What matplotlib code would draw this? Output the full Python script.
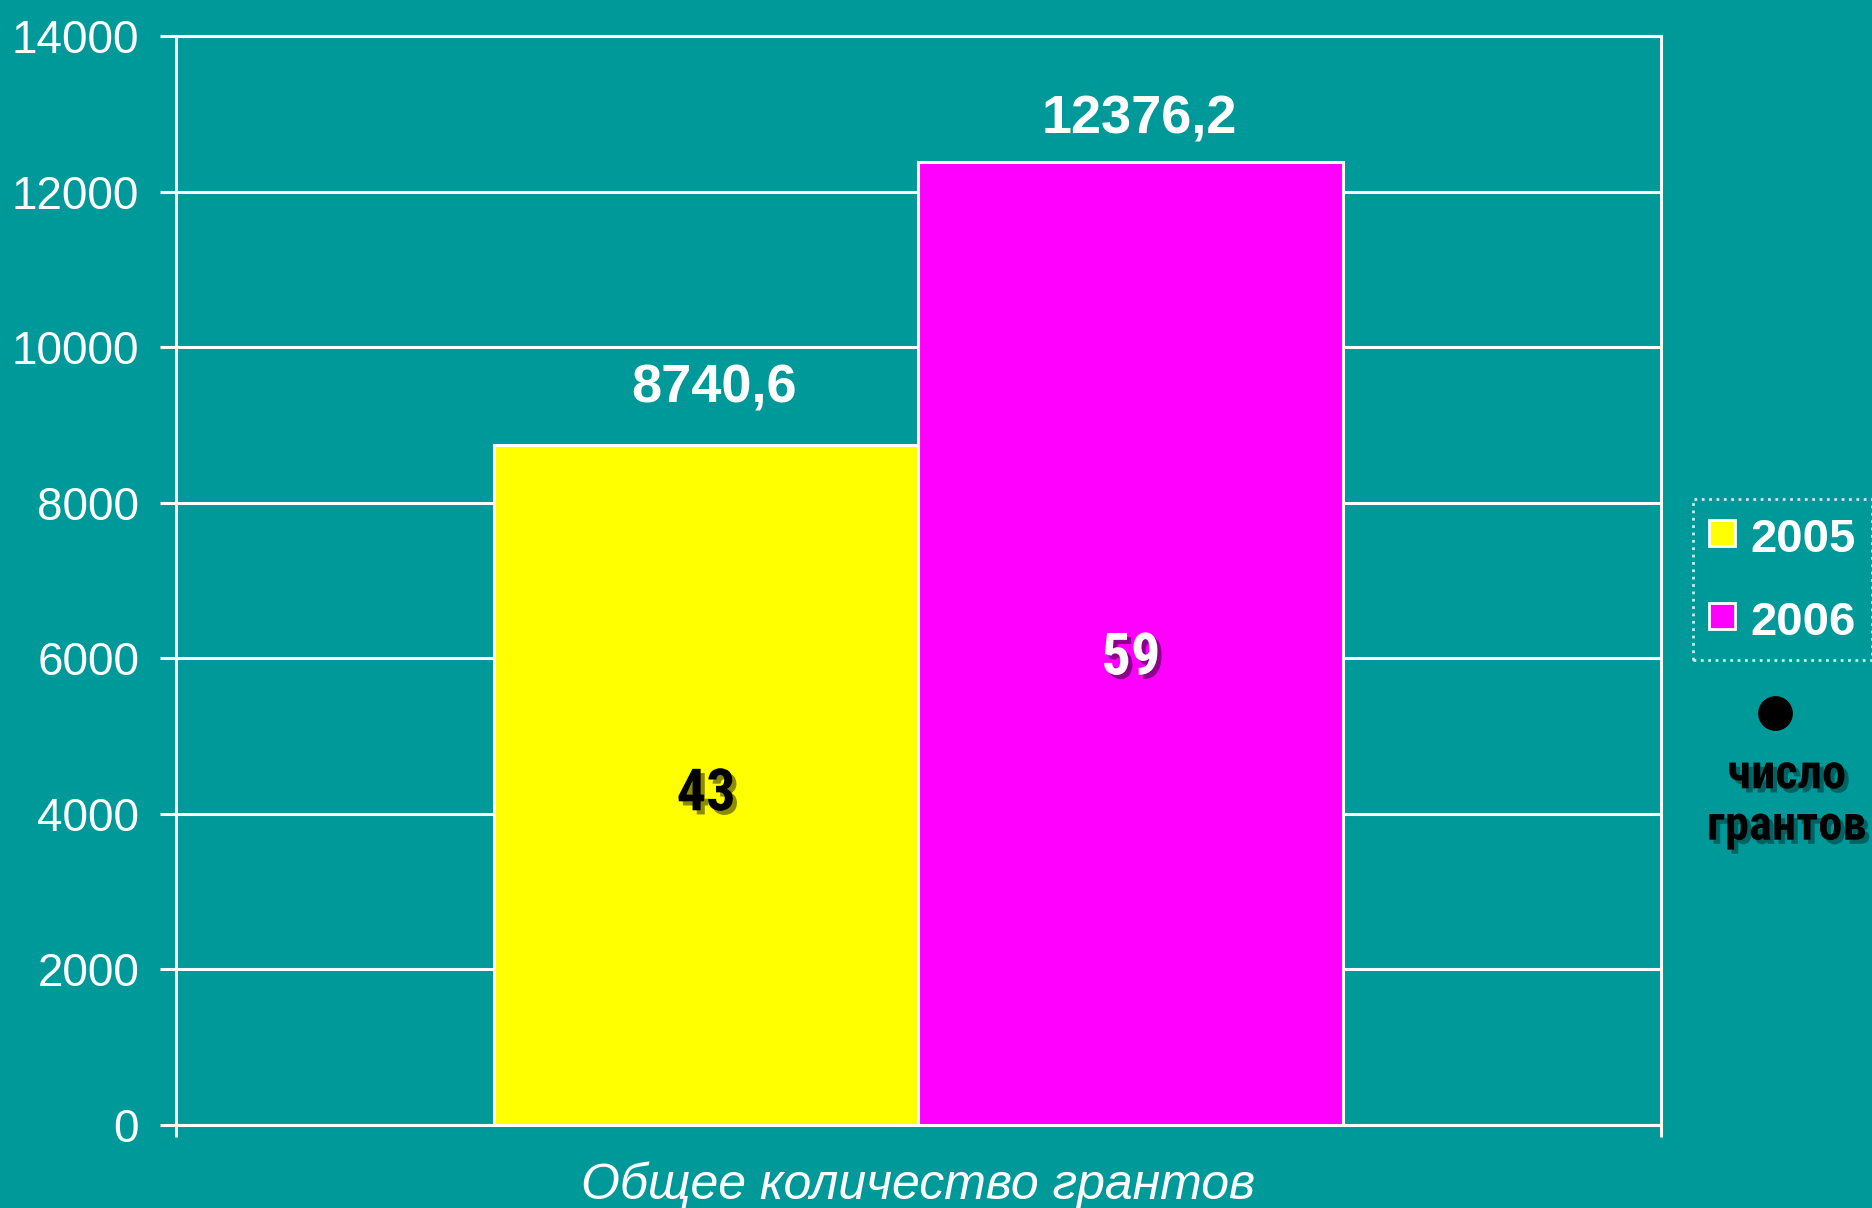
import matplotlib
matplotlib.use("Agg")
import matplotlib.pyplot as plt
import matplotlib.patheffects as pe
import matplotlib.font_manager as fm
from matplotlib.lines import Line2D
import numpy as np

# ---- data ----
category = "Общее количество грантов"
years = ["2005", "2006"]
amounts = [8740.6, 12376.2]
amount_labels = ["8740,6", "12376,2"]
grant_counts = [43, 59]
count_caption = "число\nгрантов"
yticks = [0, 2000, 4000, 6000, 8000, 10000, 12000, 14000]

# ---- style ----
BG = "#009999"
bar_colors = ["#FFFF00", "#FF00FF"]
count_colors = ["black", "white"]
W = 0.286

plt.rcParams['font.family'] = ['Liberation Sans', 'DejaVu Sans']


def pick_narrow():
    tl = fm.fontManager.ttflist
    names = {f.name for f in tl}
    for n in ['Liberation Sans Narrow', 'Arial Narrow', 'Roboto Condensed',
              'Open Sans Condensed', 'Noto Sans Condensed', 'Nimbus Sans Narrow']:
        if n in names:
            return n, 'normal'
    for f in tl:
        if 'Narrow' in f.name or 'Condensed' in f.name:
            return f.name, 'normal'
    for f in tl:
        if f.stretch in ('condensed', 'semi-condensed', 'extra-condensed'):
            return f.name, f.stretch
    return None, None


nname, nstretch = pick_narrow()
if nname:
    narrow = [nname, 'Liberation Sans', 'DejaVu Sans']
    count_fs, cap_fs = 42, 35
else:
    narrow = ['Liberation Sans', 'DejaVu Sans']
    nstretch = 'normal'
    count_fs, cap_fs = 36, 29

fig = plt.figure(figsize=(18.72, 12.08), dpi=100, facecolor=BG)
ax = fig.add_axes([0.0940, 0.0687, 0.7933, 0.9015], facecolor=BG)

x = np.array([-W / 2, W / 2])
bars = ax.bar(x, amounts, width=W, color=bar_colors, edgecolor="white",
              linewidth=2.2, zorder=3)

ax.set_xlim(-0.5, 0.5)
ax.set_ylim(0, 14000)
ax.set_yticks(yticks)
ax.set_yticklabels([str(v) for v in yticks], fontsize=33, color="white")
ax.set_xticks([-0.5, 0.5])
ax.set_xticklabels(["", ""])
ax.tick_params(axis="y", direction="out", length=11.5, width=2.2, color="white", pad=15)
ax.tick_params(axis="x", direction="out", length=8.6, width=2.2, color="white")
ax.grid(axis="y", color="white", linewidth=2.2, zorder=1)
for s in ax.spines.values():
    s.set_color("white")
    s.set_linewidth(2.2)

# value labels above bars
offsets_pt = [41, 31]
for xi, v, lab, off in zip(x, amounts, amount_labels, offsets_pt):
    ax.annotate(lab, (xi, v), xytext=(6, off), textcoords="offset points",
                ha="center", va="center", fontsize=39, fontweight="bold",
                color="white", zorder=5)

# grant counts inside bars
shadow = [pe.SimplePatchShadow(offset=(3, -3), shadow_rgbFace="black", alpha=0.45),
          pe.Normal()]
count_offsets = [-7, -11]
for xi, v, c, col, off in zip(x, amounts, grant_counts, count_colors, count_offsets):
    t = ax.annotate(str(c), (xi, v / 2), xytext=(0, off), textcoords="offset points",
                    ha="center", va="center", fontsize=count_fs, fontweight="bold",
                    family=narrow, fontstretch=nstretch, color=col, zorder=5)
    t.set_path_effects(shadow)

# category label
ax.text(0.5, (1125 - 1199) / 1089, category, transform=ax.transAxes, ha="center",
        va="baseline", fontsize=36, fontstyle="italic", color="white")

# legend
handles = [Line2D([], [], linestyle="none", marker="s", markersize=19,
                  markerfacecolor=c, markeredgecolor="white", markeredgewidth=2)
           for c in bar_colors]
leg = fig.legend(handles, years, loc="upper left", bbox_to_anchor=(0.9044, 0.5869),
                 frameon=True, prop={"weight": "bold", "size": 34},
                 handlelength=0.55, handleheight=1.0, handletextpad=0.34,
                 labelspacing=0.75, borderpad=0.33, borderaxespad=0, fancybox=False)
for t in leg.get_texts():
    t.set_color("white")
fr = leg.get_frame()
fr.set_facecolor(BG)
fr.set_edgecolor("white")
fr.set_linestyle(":")
fr.set_linewidth(2)

# grant-count legend marker and caption
fig.add_artist(Line2D([0.9482], [1 - 713 / 1208], transform=fig.transFigure,
                      marker="o", markersize=24, color="black", linestyle="none"))
cap = fig.text(0.9545, 1 - 801 / 1208, count_caption, ha="center", va="center",
               fontsize=cap_fs, fontweight="bold", family=narrow, fontstretch=nstretch,
               color="black", linespacing=1.15)
cap.set_path_effects([pe.SimplePatchShadow(offset=(3, -3), shadow_rgbFace="black", alpha=0.35),
                      pe.Normal()])

fig.savefig("out.png", dpi=100, facecolor=BG)
